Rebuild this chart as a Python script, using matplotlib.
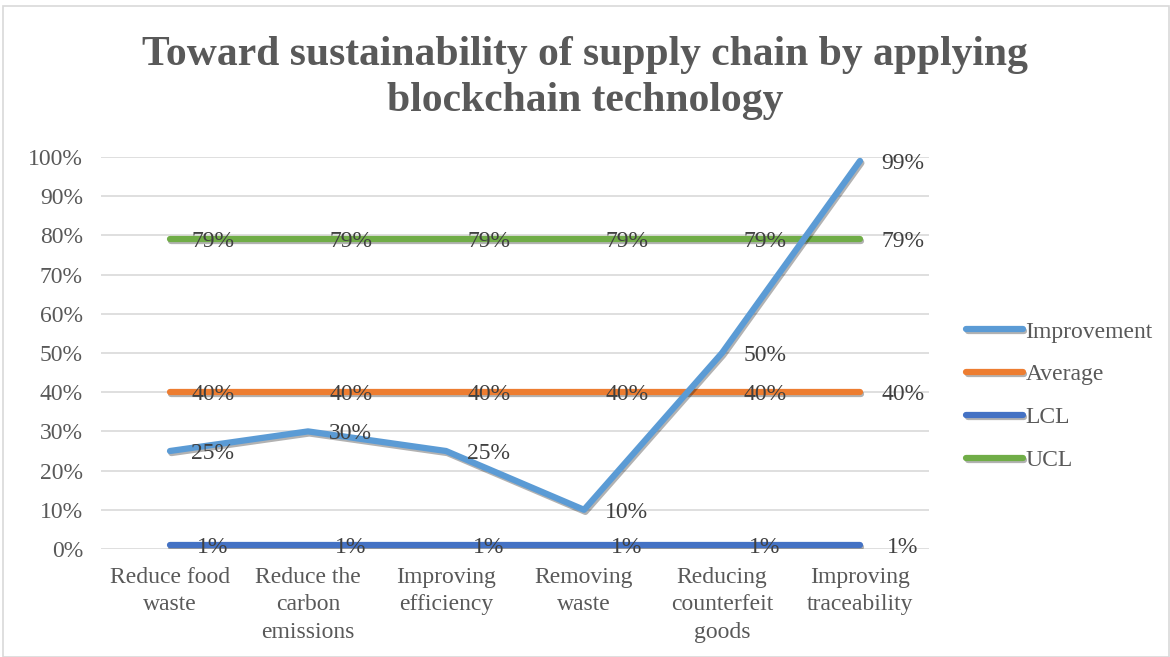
import numpy as np
import matplotlib.pyplot as plt
import matplotlib.patheffects as pe
from matplotlib.patches import Rectangle

# Input data
categories = ['Reduce food\nwaste', 'Reduce the\ncarbon\nemissions', 'Improving\nefficiency',
              'Removing\nwaste', 'Reducing\ncounterfeit\ngoods', 'Improving\ntraceability']
improvement = [25, 30, 25, 10, 50, 99]
average = [40, 40, 40, 40, 40, 40]
lcl = [1, 1, 1, 1, 1, 1]
ucl = [79, 79, 79, 79, 79, 79]
names = ['Improvement', 'Average', 'LCL', 'UCL']
colors = ['#5b9bd5', '#ed7d31', '#4472c4', '#70ad47']

plt.rcParams['font.family'] = ['Liberation Serif', 'DejaVu Serif']
fs = 17

fig = plt.figure(figsize=(11.7, 6.57), dpi=100)
ax = fig.add_axes([101/1170, 1-549/657, 828/1170, 392/657])

x = np.arange(len(categories))
shadow = [pe.SimpleLineShadow(offset=(1, -1.5), alpha=0.3, shadow_color='k'), pe.Normal()]

# draw order: lines below improvement
order = [1, 2, 3, 0]
series = [improvement, average, lcl, ucl]
handles = {}
for k in order:
    ln, = ax.plot(x, series[k], color=colors[k], lw=4.5, solid_capstyle='round',
                  solid_joinstyle='round', path_effects=shadow, label=names[k], zorder=3 + (k == 0))
    handles[k] = ln
    for xi, yi in zip(x, series[k]):
        ax.text(xi + 0.31, yi - 0.6, f'{yi}%', ha='center', va='center', fontsize=fs,
                color='#404040', zorder=6)

ax.set_xlim(-0.5, len(categories) - 0.5)
ax.set_ylim(0, 100)
ax.set_yticks(np.arange(0, 101, 10))
ax.set_yticklabels([f'{v}%' for v in range(0, 101, 10)])
ax.set_xticks(x)
ax.set_xticklabels(categories, linespacing=1.4)
ax.tick_params(axis='both', length=0, labelsize=fs, labelcolor='#595959')
ax.tick_params(axis='y', pad=13)
ax.tick_params(axis='x', pad=13)
ax.grid(axis='y', color='#d9d9d9', lw=1.2)
ax.set_axisbelow(True)
for s in ax.spines.values():
    s.set_visible(False)

leg = fig.legend([handles[k] for k in range(4)], names, loc='center left',
                 bbox_to_anchor=(945/1170, 1-396/657), frameon=False, fontsize=fs,
                 handlelength=2.4, handletextpad=0.1, labelspacing=0.9)
for t in leg.get_texts():
    t.set_color('#595959')

fig.text(0.5, 1-78/657, 'Toward sustainability of supply chain by applying\nblockchain technology',
         ha='center', va='center', fontsize=30, fontweight='bold', color='#595959', linespacing=1.25)

fig.patches.append(Rectangle((3/1170, 0), 1 - 4/1170, 1 - 6/657, transform=fig.transFigure,
                             fill=False, edgecolor='#d9d9d9', lw=1.2))

fig.savefig('out.png', dpi=100)
